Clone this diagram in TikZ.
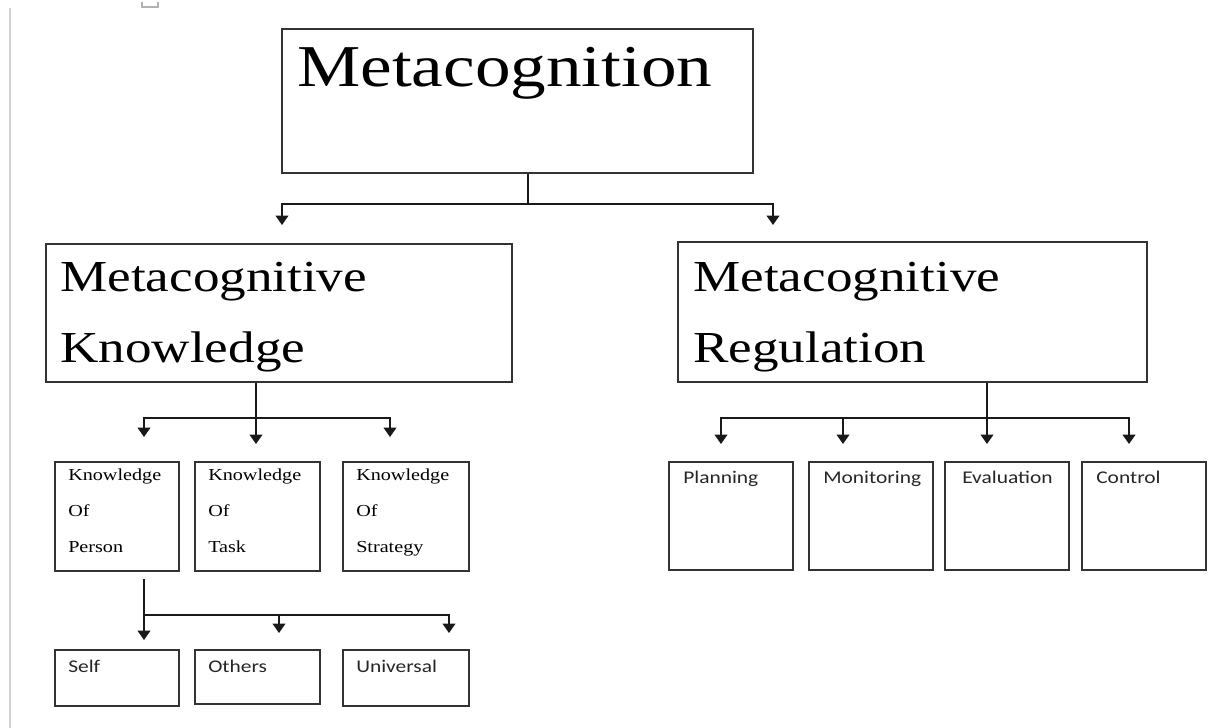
\documentclass[tikz,border=0pt]{standalone}
\usepackage{fontspec}
\usepackage{tikz}
\usetikzlibrary{arrows.meta}

\newfontfamily\wideserif{Liberation Serif}[FakeStretch=1.2]
\newfontfamily\widesans{Carlito}[FakeStretch=1.2]
\newcommand{\px}{0.75pt}

\begin{document}
\begin{tikzpicture}[x=0.75pt, y=-0.75pt,
	box/.style={draw=black!80, line width=1.2pt, rectangle, inner sep=0pt, anchor=north west},
	wire/.style={line width=1.1pt, black!90},
	arr/.style={wire, -{Triangle[width=9.5pt,length=7pt]}},
	lbl/.style={anchor=base west, inner sep=0pt},
	serifsmall/.style={lbl, align=left, font=\wideserif\fontsize{12.6}{27}\selectfont},
	sanssmall/.style={lbl, text=black!85, font=\widesans\fontsize{13.4}{16}\selectfont}]
\useasboundingbox (0,0) rectangle (1210,728);
% page edge
\draw[black!18, line width=1.5pt] (10,8) -- (10,728);
\draw[black!30, line width=0.8pt] (142,2) -- (142,7) -- (158,7) -- (158,2);

% main boxes (multi-line labels sit on their last baseline)
\node[box, minimum width=471*\px, minimum height=144*\px] (meta) at (281,28) {};
\node[box, minimum width=466*\px, minimum height=138*\px] (know) at (45,243) {};
\node[box, minimum width=469*\px, minimum height=140*\px] (reg) at (677,241) {};
\node[lbl, font=\wideserif\fontsize{44.5}{50}\selectfont] (metaTxt) at (297,86) {Metacognition};
\node[lbl, align=left, font=\wideserif\fontsize{33.2}{53}\selectfont] (knowTxt) at (60,362) {Metacognitive\\Knowledge};
\node[lbl, align=left, font=\wideserif\fontsize{33.2}{53}\selectfont] (regTxt) at (693,362) {Metacognitive\\Regulation};

% knowledge of ...
\foreach \nm/\x/\w/\txt in {kp/54/124/Person, kt/194/125/Task, ks/342/126/Strategy}{
	\node[box, minimum width=\w*\px, minimum height=109*\px] (\nm) at (\x,461) {};
	\node[serifsmall] (\nm Txt) at (\x+14,552) {Knowledge\\Of\\\txt};
}
% person split
\foreach \nm/\x/\w/\h/\txt in {self/54/124/56/Self, oth/194/125/54/Others, uni/342/126/56/Universal}{
	\node[box, minimum width=\w*\px, minimum height=\h*\px] (\nm) at (\x,649) {};
	\node[sanssmall] (\nm Txt) at (\x+14,672) {\txt};
}
% regulation parts
\foreach \nm/\x/\dx/\txt in {plan/668/15/Planning, mon/808/15/Monitoring, eval/944/18/Evaluation, ctrl/1081/15/Control}{
	\node[box, minimum width=124*\px, minimum height=108*\px] (\nm) at (\x,461) {};
	\node[sanssmall] (\nm Txt) at (\x+\dx,483) {\txt};
}

% top split
\coordinate (topHub) at (528,204);
\coordinate (tipKnow) at (282,225);
\coordinate (tipReg) at (773,225);
\draw[wire] (topHub |- meta.south) -- (topHub);
\draw[arr] (topHub) -| (tipKnow);
\draw[arr] (topHub) -| (tipReg);

% knowledge split
\coordinate (kHub) at (256,418);
\coordinate (tipKt) at (256,444);
\draw[arr] (kHub |- know.south) -- (tipKt);
\foreach \nm/\x in {Kp/144, Ks/390}{
	\coordinate (tip\nm) at (\x,437);
	\draw[arr] (kHub) -| (tip\nm);
}

% regulation split
\coordinate (rHub) at (987,418);
\coordinate (tipEval) at (987,444);
\draw[arr] (rHub |- reg.south) -- (tipEval);
\foreach \nm/\x in {Plan/721, Mon/843, Ctrl/1129}{
	\coordinate (tip\nm) at (\x,444);
	\draw[arr] (rHub) -| (tip\nm);
}

% person split
\coordinate (pTop) at (144,579);
\coordinate (pHub) at (144,615);
\coordinate (tipSelf) at (144,640);
\draw[arr] (pTop) -- (tipSelf);
\foreach \nm/\x in {Oth/279, Uni/449}{
	\coordinate (tip\nm) at (\x,633);
	\draw[arr] (pHub) -| (tip\nm);
}
\end{tikzpicture}
\end{document}
